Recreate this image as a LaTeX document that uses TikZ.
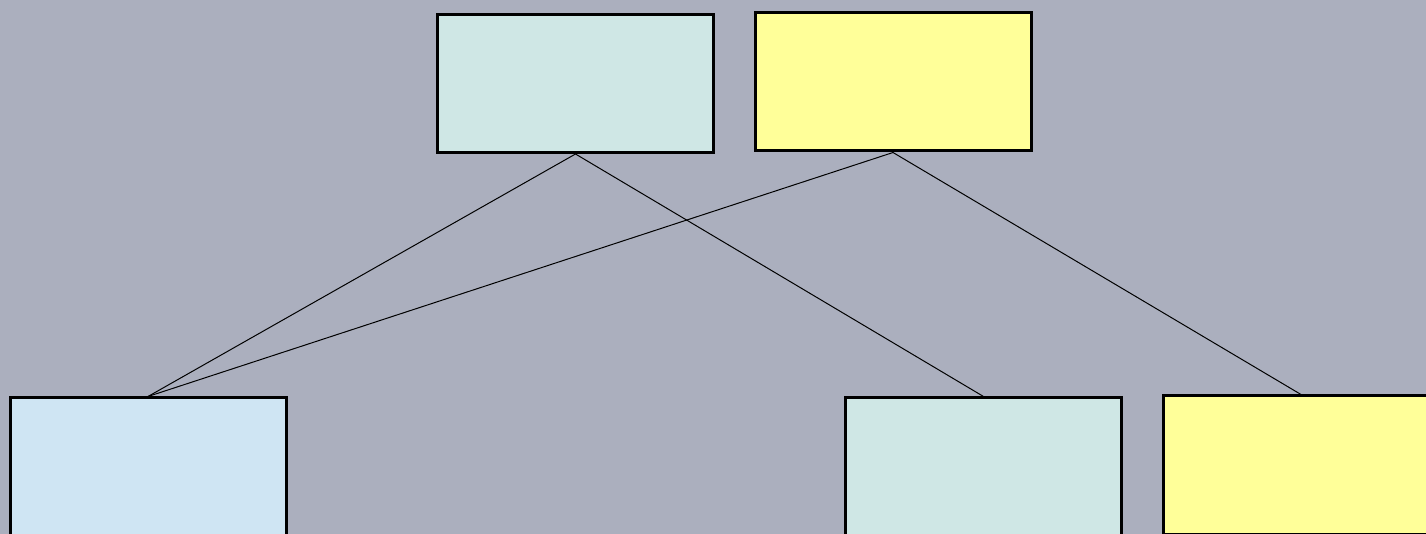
\documentclass[tikz,border=0pt]{standalone}
\usepackage{tikz}
\usetikzlibrary{positioning}
\definecolor{backgr}{HTML}{ABAFBE}
\definecolor{cyanbox}{HTML}{CFE7E5}
\definecolor{yellowbox}{HTML}{FFFF99}
\definecolor{bluebox}{HTML}{CFE5F3}
\tikzset{
  caja/.style={draw=black, line width=1.5pt, inner sep=0pt,
               minimum width=138pt, minimum height=69pt},
  enlace/.style={-, line width=0.5pt}
}
\begin{document}
\begin{tikzpicture}[x=0.5pt, y=-0.5pt]
                    \useasboundingbox (0,0) rectangle (1426,534);
                    \clip (0,0) rectangle (1426,534);
                    \fill[backgr] (0,0) rectangle (1426,534);

                    \node[caja, fill=cyanbox]   (arribaI) at (575.5,83.5) {};
                    \node[caja, fill=yellowbox] (arribaD) at (893,82) {};
                    \node[caja, fill=bluebox]   (abajoI)  at (148,467) {};
                    \node[caja, fill=cyanbox]   (abajoM)  at (983.5,467) {};
                    \node[caja, fill=yellowbox] (abajoD)  at (1301,465) {};

                    \draw[enlace] (arribaI.south) -- (abajoI.north);
                    \draw[enlace] (arribaI.south) -- (abajoM.north);
                    \draw[enlace] (arribaD.south) -- (abajoI.north);
                    \draw[enlace] (arribaD.south) -- (abajoD.north);
                \end{tikzpicture}
\end{document}
